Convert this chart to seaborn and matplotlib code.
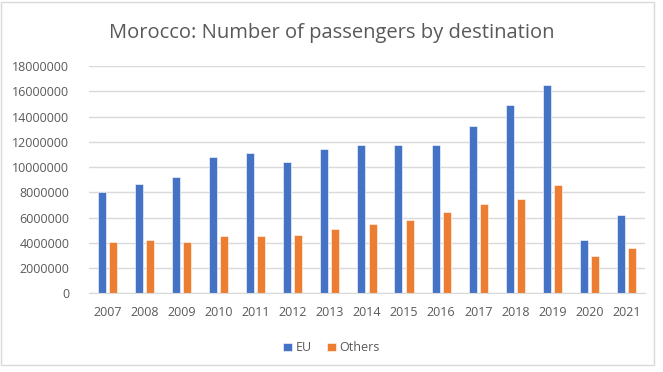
import pandas as pd
import matplotlib
matplotlib.use("Agg")
import matplotlib.pyplot as plt
import seaborn as sns

years = ["2007", "2008", "2009", "2010", "2011", "2012", "2013", "2014",
         "2015", "2016", "2017", "2018", "2019", "2020", "2021"]
eu = [8020000, 8630000, 9210000, 10770000, 11080000, 10420000, 11400000, 11740000,
      11740000, 11740000, 13270000, 14880000, 16490000, 4200000, 6230000]
others = [4060000, 4200000, 4090000, 4540000, 4540000, 4640000, 5070000, 5510000,
          5830000, 6460000, 7100000, 7490000, 8550000, 2930000, 3610000]

df = pd.DataFrame({"Year": years, "EU": eu, "Others": others})
df = df.melt("Year", var_name="dest", value_name="val")

sns.set_style("white")
plt.rcParams["font.family"] = ["Open Sans", "DejaVu Sans"]
grey = "#595959"

fig = plt.figure(figsize=(6.63, 3.72), dpi=100)
ax = fig.add_axes([0.134, 0.2116, 0.839, 0.611])

sns.barplot(data=df, x="Year", y="val", hue="dest", ax=ax,
            palette=["#4472C4", "#ED7D31"], saturation=1,
            width=0.6, gap=0.28, edgecolor="white", linewidth=0.4)

ax.set_ylim(0, 18000000)
ax.set_xlim(-0.5, 14.5)
ax.set_yticks(range(0, 18000001, 2000000))
ax.set_yticklabels([str(v) for v in range(0, 18000001, 2000000)])
ax.yaxis.grid(True, color="#D9D9D9", linewidth=1)
ax.set_axisbelow(True)
for s in ["top", "right", "left"]:
    ax.spines[s].set_visible(False)
ax.spines["bottom"].set_color("#D9D9D9")
ax.tick_params(axis="both", length=0, labelsize=9, colors=grey)
ax.tick_params(axis="y", pad=14)
ax.tick_params(axis="x", pad=9)
ax.set_xlabel("")
ax.set_ylabel("")

fig.text(0.5, 0.912, "Morocco: Number of passengers by destination",
         ha="center", va="center", fontsize=14.5, color=grey)

handles, labels = ax.get_legend_handles_labels()
ax.legend(handles, labels, loc="center", bbox_to_anchor=(0.5, 0.065),
          bbox_transform=fig.transFigure, ncol=2, frameon=False,
          fontsize=9, labelcolor=grey, handlelength=0.7, handleheight=0.7,
          handletextpad=0.3, columnspacing=1.2)

fig.patches.append(plt.Rectangle((0.002, 0.02), 0.985, 0.975, transform=fig.transFigure,
                                 fill=False, edgecolor="#D9D9D9", linewidth=1))

fig.savefig("out.png", dpi=100)
